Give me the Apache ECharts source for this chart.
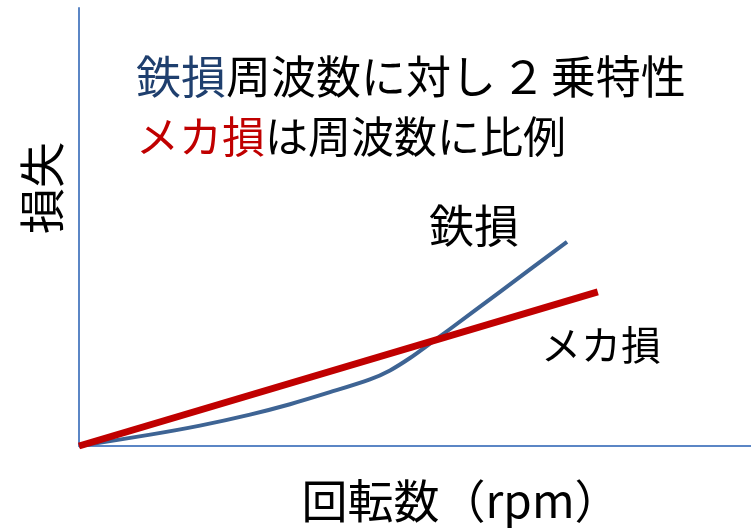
<!DOCTYPE html>
<html>
<head>
<meta charset="utf-8">
<script src="https://cdn.jsdelivr.net/npm/echarts@6/dist/echarts.min.js"></script>
<style>
  html, body { margin: 0; padding: 0; background: #fff; }
  #chart { width: 751px; height: 528px; }
</style>
</head>
<body>
<div id="chart"></div>
<script>
// Rotational speed (relative units) vs loss (relative units)
const ironLossPoints = [
  [0, 0], [10.6, 2.6], [18.0, 4.66], [25.45, 7.17], [31.4, 9.54],
  [37.35, 12.28], [43.3, 15.21], [46.28, 17.26], [49.26, 20.09],
  [52.23, 23.38], [55.21, 26.71], [62.65, 35.2], [72.62, 46.62]
];
const mechLossPoints = [[0, 0], [77.2, 35.2]];

const FONT = '"Noto Sans CJK JP", "Noto Sans", sans-serif';
const BLUE_LINE = '#3E6494';
const BLUE_TEXT = '#1F3F6E';
const RED = '#C00000';
const AXIS = '#5B86C5';

const chart = echarts.init(document.getElementById('chart'), null, { renderer: 'canvas' });
chart.setOption({
  animation: false,
  backgroundColor: '#fff',
  grid: { left: 79, top: 8, right: 0, bottom: 82, containLabel: false },
  xAxis: {
    type: 'value', min: 0, max: 100,
    axisLine: { show: true, lineStyle: { color: AXIS, width: 2 } },
    axisTick: { show: false }, axisLabel: { show: false }, splitLine: { show: false }
  },
  yAxis: {
    type: 'value', min: 0, max: 100,
    axisLine: { show: true, lineStyle: { color: AXIS, width: 2 } },
    axisTick: { show: false }, axisLabel: { show: false }, splitLine: { show: false }
  },
  series: [
    {
      name: '鉄損', type: 'line', data: ironLossPoints, smooth: 0.3,
      showSymbol: false, lineStyle: { color: BLUE_LINE, width: 4, join: 'round' }, z: 2
    },
    {
      name: 'メカ損', type: 'line', data: mechLossPoints,
      showSymbol: false, lineStyle: { color: RED, width: 7 }, z: 3
    }
  ],
  graphic: [
    {
      type: 'text', left: 136, top: 54,
      style: {
        text: '{b|鉄損}{k|周波数に対し}{s| }{k|２}{s| }{k|乗特性}',
        rich: {
          b: { fill: BLUE_TEXT, font: '45px ' + FONT },
          k: { fill: '#000', font: '45px ' + FONT },
          s: { fill: '#000', font: '22px ' + FONT }
        }
      }
    },
    {
      type: 'text', left: 136, top: 115,
      style: {
        text: '{r|メカ損}{k|は周波数に比例}',
        rich: {
          r: { fill: RED, font: '43px ' + FONT },
          k: { fill: '#000', font: '43px ' + FONT }
        }
      }
    },
    {
      type: 'text', left: 429, top: 203,
      style: { text: '鉄損', fill: '#000', font: '45px ' + FONT }
    },
    {
      type: 'text', left: 541, top: 325,
      style: { text: 'メカ損', fill: '#000', font: '40px ' + FONT }
    },
    {
      type: 'text', x: 42, y: 188, rotation: Math.PI / 2,
      style: { text: '損失', fill: '#000', font: '46px ' + FONT, align: 'center', verticalAlign: 'middle' }
    },
    {
      type: 'text', x: 461, y: 501,
      style: { text: '回転数（rpm）', fill: '#000', font: '46px ' + FONT, align: 'center', verticalAlign: 'middle' }
    }
  ]
});
</script>
</body>
</html>
